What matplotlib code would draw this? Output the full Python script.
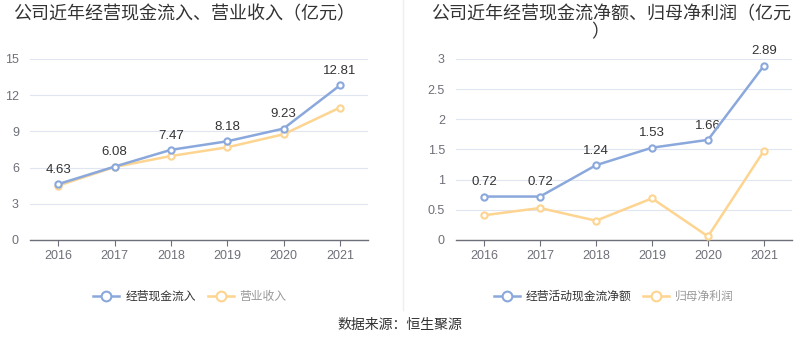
import matplotlib
matplotlib.use('Agg')
import matplotlib.pyplot as plt
from matplotlib.lines import Line2D

plt.rcParams['font.family'] = ['Liberation Sans', 'Noto Sans CJK SC', 'DejaVu Sans']

years = ['2016', '2017', '2018', '2019', '2020', '2021']

# 左图
cash_in = [4.63, 6.08, 7.47, 8.18, 9.23, 12.81]
revenue = [4.50, 6.05, 6.96, 7.68, 8.76, 10.97]

# 右图
cash_net = [0.72, 0.72, 1.24, 1.53, 1.66, 2.89]
net_profit = [0.41, 0.53, 0.32, 0.69, 0.06, 1.48]

blue = '#8aa8dc'
yellow = '#fdd490'
W, H = 800, 358

fig = plt.figure(figsize=(8, 3.58), dpi=100)


def px(x, y):
    return x / W, 1 - y / H


def draw(ax, a, b, ymax, step, fmt):
    xs = range(len(years))
    ax.plot(xs, b, color=yellow, lw=1.8, marker='o', ms=4.5, mfc='white',
            mec=yellow, mew=1.5, zorder=3)
    ax.plot(xs, a, color=blue, lw=1.8, marker='o', ms=4.5, mfc='white',
            mec=blue, mew=1.5, zorder=4)
    for x, v in zip(xs, a):
        ax.annotate(fmt(v), (x, v), xytext=(0, 6), textcoords='offset points',
                    ha='center', va='bottom', fontsize=9.5, color='#333333')
    ax.set_xlim(-0.5, len(years) - 0.5)
    ax.set_ylim(0, ymax)
    ticks = [i * step for i in range(int(round(ymax / step)) + 1)]
    ax.set_yticks(ticks)
    ax.set_yticklabels([('%g' % t) for t in ticks])
    ax.set_xticks(list(xs))
    ax.set_xticklabels(years)
    ax.tick_params(axis='y', length=0, labelsize=9, colors='#6e7079', pad=8)
    ax.tick_params(axis='x', length=4, labelsize=9, colors='#6e7079',
                   color='#6e7079', pad=3)
    ax.grid(axis='y', color='#e0e6f1', lw=0.8)
    ax.set_axisbelow(True)
    for s in ['top', 'right', 'left']:
        ax.spines[s].set_visible(False)
    ax.spines['bottom'].set_color('#6e7079')
    ax.spines['bottom'].set_linewidth(1)


ax1 = fig.add_axes([30 / W, 118 / H, 338 / W, 181 / H])
draw(ax1, cash_in, revenue, 15, 3, lambda v: '%.2f' % v)

ax2 = fig.add_axes([456 / W, 118 / H, 336 / W, 181 / H])
draw(ax2, cash_net, net_profit, 3, 0.5, lambda v: '%.2f' % v)

# 标题
fig.text(*px(184, 15), '公司近年经营现金流入、营业收入（亿元）', ha='center', va='center',
         fontsize=13, color='#333333')
fig.text(*px(611, 15), '公司近年经营现金流净额、归母净利润（亿元', ha='center', va='center',
         fontsize=13, color='#333333')
fig.text(*px(600, 33), '）', ha='center', va='center', fontsize=13, color='#333333')

# 分隔线
fig.add_artist(Line2D([403 / W, 403 / W], [1 - 310 / H, 1], color='#eeeeee', lw=1))


def handle(c):
    return Line2D([], [], color=c, lw=1.8, marker='o', ms=7, mfc='white', mec=c, mew=1.5)


lg1 = fig.legend([handle(blue), handle(yellow)], ['经营现金流入', '营业收入'],
                 loc='center', bbox_to_anchor=px(190, 297), ncol=2, frameon=False,
                 fontsize=8.5, handlelength=2.2, columnspacing=1.0, handletextpad=0.5)
lg1.get_texts()[1].set_color('#999999')
lg1.get_texts()[0].set_color('#333333')

lg2 = fig.legend([handle(blue), handle(yellow)], ['经营活动现金流净额', '归母净利润'],
                 loc='center', bbox_to_anchor=px(614, 297), ncol=2, frameon=False,
                 fontsize=8.5, handlelength=2.2, columnspacing=1.0, handletextpad=0.5)
lg2.get_texts()[1].set_color('#999999')
lg2.get_texts()[0].set_color('#333333')

fig.text(*px(400, 325), '数据来源：恒生聚源', ha='center', va='center', fontsize=10,
         color='#333333')

fig.savefig('out.png', dpi=100)
